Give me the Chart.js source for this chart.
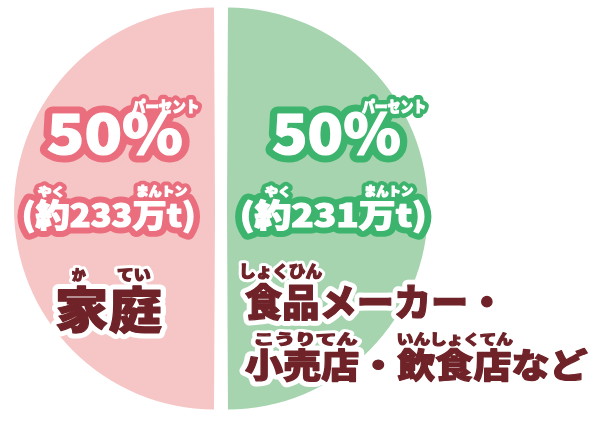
<!DOCTYPE html>
<html>
<head>
<meta charset="utf-8">
<script src="https://cdn.jsdelivr.net/npm/chart.js@4"></script>
<style>
  html, body { margin: 0; padding: 0; background: #fff; }
  #wrap { width: 600px; height: 422px; }
</style>
</head>
<body>
<div id="wrap"><canvas id="foodLossChart"></canvas></div>
<script>
// 家庭系と事業系の食品ロス（割合と量）
const categories = ['家庭', '食品メーカー・小売店・飲食店など'];
const shares = [50, 50];          // %
const tonnes = [233, 231];        // 万t
const sliceColors = ['#f5c6c5', '#a6d4af'];
const outlineColors = ['#ea6e7d', '#3db46e'];

const FONT = '"Noto Sans CJK JP", "Noto Sans", sans-serif';
const DARK = '#6f2328';

// ラベル（ふりがな付き）の位置
const labelBoxes = [
  // ピンク側
  { text: shares[0] + '%', box: [48, 112, 182, 154], fill: '#fff', stroke: outlineColors[0], lw: 15 },
  { text: 'パーセント', box: [132, 98, 198, 112], fill: '#fff', stroke: outlineColors[0], lw: 10 },
  { text: 'やく', box: [38, 185, 62, 196], fill: '#fff', stroke: outlineColors[0], lw: 9 },
  { text: 'まんトン', box: [137, 185, 187, 196], fill: '#fff', stroke: outlineColors[0], lw: 9 },
  { text: '(約' + tonnes[0] + '万t)', box: [24, 199, 194, 233], fill: '#fff', stroke: outlineColors[0], lw: 13 },
  // 緑側
  { text: shares[1] + '%', box: [273, 112, 400, 154], fill: '#fff', stroke: outlineColors[1], lw: 15 },
  { text: 'パーセント', box: [362, 98, 425, 112], fill: '#fff', stroke: outlineColors[1], lw: 10 },
  { text: 'やく', box: [265, 185, 288, 196], fill: '#fff', stroke: outlineColors[1], lw: 9 },
  { text: 'まんトン', box: [365, 185, 413, 196], fill: '#fff', stroke: outlineColors[1], lw: 9 },
  { text: '(約' + tonnes[1] + '万t)', box: [242, 199, 425, 233], fill: '#fff', stroke: outlineColors[1], lw: 13 },
  // カテゴリ名
  { text: 'か', box: [72, 268, 86, 280], fill: DARK, stroke: '#fff', lw: 7 },
  { text: 'てい', box: [117, 268, 150, 280], fill: DARK, stroke: '#fff', lw: 7 },
  { text: categories[0], box: [57, 285, 162, 333], fill: DARK, stroke: '#fff', lw: 11 },
  { text: 'しょくひん', box: [242, 263, 322, 278], fill: DARK, stroke: '#fff', lw: 7 },
  { text: '食品メーカー・', box: [245, 283, 493, 320], fill: DARK, stroke: '#fff', lw: 11 },
  { text: 'こうりてん', box: [255, 332, 357, 344], fill: DARK, stroke: '#fff', lw: 7 },
  { text: 'いんしょくてん', box: [398, 332, 513, 345], fill: DARK, stroke: '#fff', lw: 7 },
  { text: '小売店・飲食店など', box: [245, 348, 588, 381], fill: DARK, stroke: '#fff', lw: 11 }
];

// 文字を箱に合わせて描く
function drawFitted(ctx, item, pass) {
  const [x0, y0, x1, y1] = item.box;
  ctx.font = '900 100px ' + FONT;
  let m = ctx.measureText(item.text);
  const h = m.actualBoundingBoxAscent + m.actualBoundingBoxDescent;
  const size = 100 * (y1 - y0) / h;
  ctx.font = '900 ' + size + 'px ' + FONT;
  m = ctx.measureText(item.text);
  const w = m.actualBoundingBoxLeft + m.actualBoundingBoxRight;
  const sx = (x1 - x0) / w;
  ctx.save();
  ctx.translate(x0, y0 + m.actualBoundingBoxAscent);
  ctx.scale(sx, 1);
  ctx.textBaseline = 'alphabetic';
  ctx.textAlign = 'left';
  if (pass === 'stroke') {
    ctx.lineJoin = 'round';
    ctx.lineWidth = item.lw;
    ctx.strokeStyle = item.stroke;
    ctx.strokeText(item.text, m.actualBoundingBoxLeft, 0);
  } else {
    // 少し太らせる
    ctx.lineJoin = 'round';
    ctx.lineWidth = 1.2;
    ctx.strokeStyle = item.fill;
    ctx.strokeText(item.text, m.actualBoundingBoxLeft, 0);
    ctx.fillStyle = item.fill;
    ctx.fillText(item.text, m.actualBoundingBoxLeft, 0);
  }
  ctx.restore();
}

const labelPlugin = {
  id: 'labelPlugin',
  afterDraw(chart) {
    const ctx = chart.ctx;
    labelBoxes.forEach(item => drawFitted(ctx, item, 'stroke'));
    labelBoxes.forEach(item => drawFitted(ctx, item, 'fill'));
  }
};

new Chart(document.getElementById('foodLossChart'), {
  type: 'pie',
  data: {
    labels: categories,
    datasets: [{
      data: shares,
      backgroundColor: sliceColors,
      borderWidth: 0,
      offset: 24
    }]
  },
  options: {
    responsive: true,
    maintainAspectRatio: false,
    animation: false,
    rotation: 180,
    radius: 195,
    layout: { padding: { left: 0, top: 0, right: 158, bottom: 5 } },
    plugins: {
      legend: { display: false },
      tooltip: { enabled: false }
    }
  },
  plugins: [labelPlugin]
});
</script>
</body>
</html>
